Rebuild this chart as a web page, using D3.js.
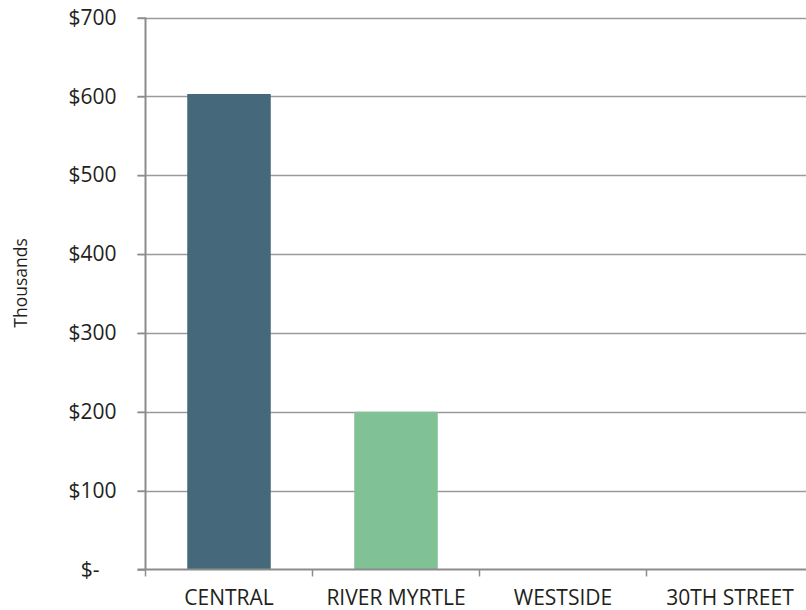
<!DOCTYPE html>
<html>
<head>
<meta charset="utf-8">
<script src="https://cdn.jsdelivr.net/npm/d3@7"></script>
<style>
  html, body { margin: 0; padding: 0; background: #fff; }
  svg { display: block; }
  text { font-family: "Open Sans", "Noto Sans", sans-serif; fill: #231f20; }
</style>
</head>
<body>
<svg id="chart" width="806" height="610"></svg>
<script>
// Fund balance by district, in thousands of dollars
const categories = ["CENTRAL", "RIVER MYRTLE", "WESTSIDE", "30TH STREET"];
const values = [603, 200, 0, 0];
const barColors = ["#46687b", "#80c196", "#46687b", "#80c196"];
const yTicks = [0, 100, 200, 300, 400, 500, 600, 700];
const yTickLabels = ["$-", "$100", "$200", "$300", "$400", "$500", "$600", "$700"];

const svg = d3.select("#chart");
const plot = { left: 145.5, right: 813.5, top: 17.5, bottom: 569.5 };

const x = d3.scaleBand().domain(categories).range([plot.left, plot.right]).paddingInner(0).paddingOuter(0);
const y = d3.scaleLinear().domain([0, 700]).range([plot.bottom, plot.top]);

// horizontal gridlines
svg.append("g")
  .selectAll("line")
  .data(yTicks.filter(d => d > 0))
  .join("line")
  .attr("x1", plot.left - 8).attr("x2", 806)
  .attr("y1", d => Math.round(y(d)) + 0.5).attr("y2", d => Math.round(y(d)) + 0.5)
  .attr("stroke", "#9a9a9a").attr("stroke-width", 1.5);

// bars, half the band wide and centred
const bw = x.bandwidth() * 0.5;
svg.append("g")
  .selectAll("rect")
  .data(categories.map((c, i) => ({ c, v: values[i], col: barColors[i] })))
  .join("rect")
  .attr("x", d => x(d.c) + (x.bandwidth() - bw) / 2)
  .attr("width", bw)
  .attr("y", d => y(d.v))
  .attr("height", d => y(0) - y(d.v))
  .attr("fill", d => d.col);

// y axis (accounting-style labels; the zero dash sits left of the digits column)
const yAxis = svg.append("g")
  .attr("transform", `translate(${plot.left},0)`)
  .call(d3.axisLeft(y).tickValues(yTicks).tickFormat((d, i) => yTickLabels[i]).tickSize(8).tickPadding(21));
yAxis.select(".domain").attr("stroke", "#8c8c8c").attr("stroke-width", 2).attr("d", `M0,${plot.top}V${plot.bottom}`);
yAxis.selectAll(".tick line").attr("stroke", "#8c8c8c").attr("stroke-width", 1.5);
yAxis.selectAll(".tick text")
  .attr("font-size", 21)
  .attr("dx", d => d === 0 ? -17 : 0)
  .style("fill", "#231f20");

// x axis with ticks at band boundaries
const xg = svg.append("g").attr("transform", `translate(0,${plot.bottom})`);
xg.append("line").attr("x1", plot.left - 8).attr("x2", 806).attr("y1", 0).attr("y2", 0)
  .attr("stroke", "#8c8c8c").attr("stroke-width", 2);
xg.selectAll("line.tk")
  .data(categories)
  .join("line").attr("class", "tk")
  .attr("x1", d => x(d)).attr("x2", d => x(d))
  .attr("y1", 0).attr("y2", 7)
  .attr("stroke", "#8c8c8c").attr("stroke-width", 1.5);
xg.selectAll("text")
  .data(categories)
  .join("text")
  .attr("x", d => x(d) + x.bandwidth() / 2)
  .attr("y", 35)
  .attr("text-anchor", "middle")
  .attr("font-size", 21)
  .text(d => d);

// y axis title
svg.append("text")
  .attr("transform", `translate(27,283) rotate(-90)`)
  .attr("text-anchor", "middle")
  .attr("font-size", 17.5)
  .text("Thousands");
</script>
</body>
</html>
